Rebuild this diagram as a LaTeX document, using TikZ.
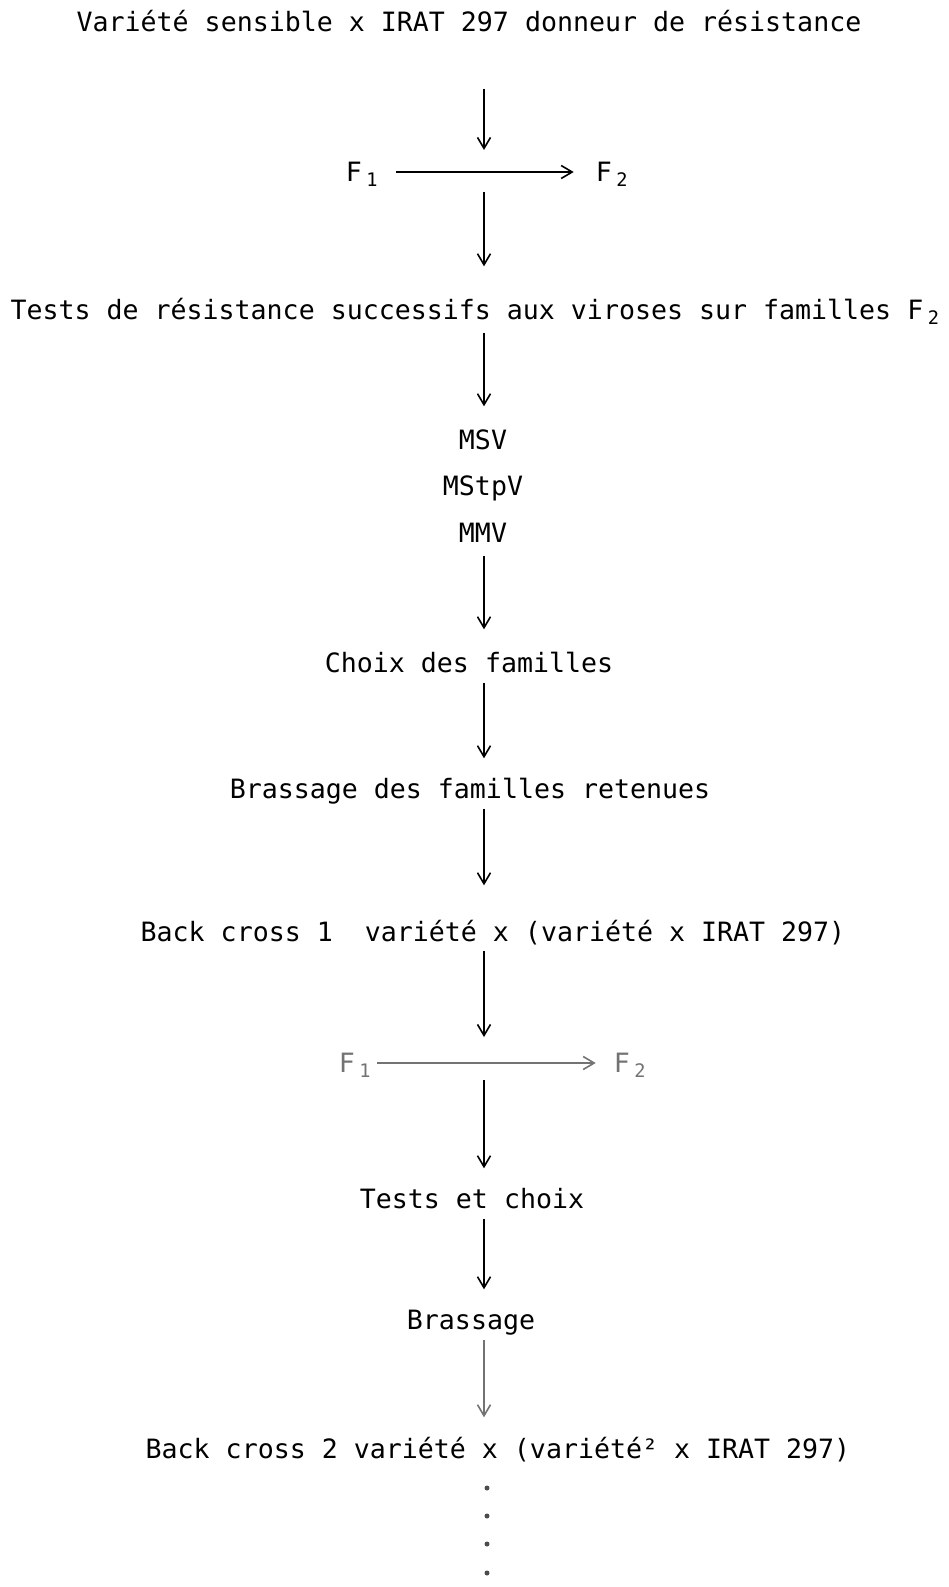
\documentclass[tikz,border=0pt]{standalone}
\usepackage{fontspec}
\setmonofont{DejaVu Sans Mono}
\usepackage{tikz}
\usetikzlibrary{arrows.meta}

\begin{document}
\begin{tikzpicture}[x=1pt,y=-1pt,
every node/.style={font=\ttfamily\fontsize{26.6}{30}\selectfont,inner sep=0pt,text height=19pt,text depth=0pt},
flow/.style={draw,line width=1.3pt,-{Straight Barb[length=11pt,width=13pt,line width=1.6pt]},shorten <=10pt,shorten >=21pt},
faded/.style={black!55}]
\useasboundingbox (0,0) rectangle (949,1587);
\coordinate (axis) at (484,0);

\node (cross) at (469,22) {Variété sensible x IRAT 297 donneur de résistance};
\node (fa1) at (362,172) {F\,\textsubscript{1}};
\node (fb1) at (612,172) {F\,\textsubscript{2}};
\node (tests) at (475,310) {Tests de résistance successifs aux viroses sur familles F\,\textsubscript{2}};
\node (msv) at (483,440) {MSV};
\node (mstpv) at (483,486) {MStpV};
\node (mmv) at (483,533) {MMV};
\node (choix) at (469,663) {Choix des familles};
\node (brassage) at (470,789) {Brassage des familles retenues};
\node (bc1) at (493,932) {Back cross 1\ \ variété x (variété x IRAT 297)};
\node[faded] (fa2) at (355,1063) {F\,\textsubscript{1}};
\node[faded] (fb2) at (630,1063) {F\,\textsubscript{2}};
\node (testchoix) at (472,1199) {Tests et choix};
\node (brass) at (471,1320) {Brassage};
\node (bc2) at (498,1449) {Back cross 2 variété x (variété² x IRAT 297)};

\draw[flow,shorten <=18pt,shorten >=22pt] (fa1) -- (fb1);
\draw[flow,faded,shorten <=6pt,shorten >=18pt] (fa2) -- (fb2);

\draw[flow,shorten <=57pt,shorten >=22pt] (cross.south -| axis) -- (fa1 -| axis);
\draw[flow,shorten <=20pt,shorten >=34pt] (fa1 -| axis) -- (tests.north -| axis);
\draw[flow,shorten <=13pt,shorten >=24pt] (tests.south -| axis) -- (msv.north -| axis);
\draw[flow,shorten <=13pt,shorten >=24pt] (mmv.south -| axis) -- (choix.north -| axis);
\draw[flow] (choix.south -| axis) -- (brassage.north -| axis);
\draw[flow,shorten >=37pt] (brassage.south -| axis) -- (bc1.north -| axis);
\draw[flow,shorten <=9pt,shorten >=26pt] (bc1.south -| axis) -- (fa2 -| axis);
\draw[flow,shorten <=17pt] (fa2 -| axis) -- (testchoix.north -| axis);
\draw[flow] (testchoix.south -| axis) -- (brass.north -| axis);
\draw[flow,faded,shorten >=22pt] (brass.south -| axis) -- (bc2.north -| axis);

\foreach \y in {1488,1516,1544,1573}
  \fill[black!70] (487,\y) circle (2.5pt);
\end{tikzpicture}
\end{document}
